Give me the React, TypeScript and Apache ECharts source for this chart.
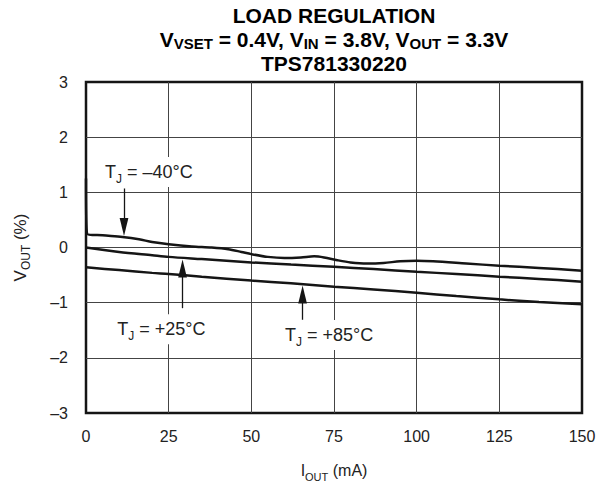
import React, { useEffect, useRef } from "react";
import * as echarts from "echarts";

const FONT = "'Liberation Sans', Arial, Helvetica, sans-serif";

// X axis: output current (mA)
const X_MIN = 0;
const X_MAX = 150;
const X_STEP = 25;
// Y axis: output voltage change (%)
const Y_MIN = -3;
const Y_MAX = 3;
const Y_STEP = 1;
const Y_TICK_LABELS = ["–3", "–2", "–1", "0", "1", "2", "3"];

// TJ = -40°C
const I_M40 = [0, 0.3, 5, 11, 16, 20, 25, 32, 38, 43, 47, 50, 55, 60, 65, 69, 72, 76, 80, 85, 90, 95, 100, 105, 115, 125, 137, 150];
const V_M40 = [1.25, 0.25, 0.22, 0.19, 0.15, 0.1, 0.06, 0.02, 0.0, -0.03, -0.08, -0.12, -0.17, -0.19, -0.18, -0.16, -0.18, -0.23, -0.27, -0.29, -0.28, -0.25, -0.24, -0.25, -0.29, -0.33, -0.37, -0.42];
// TJ = +25°C
const I_P25 = [0, 10, 20, 25, 35, 50, 62, 75, 87, 100, 112, 125, 137, 150];
const V_P25 = [0.0, -0.08, -0.14, -0.17, -0.21, -0.27, -0.31, -0.35, -0.39, -0.44, -0.48, -0.53, -0.57, -0.62];
// TJ = +85°C
const I_P85 = [0, 10, 20, 25, 35, 50, 62, 75, 87, 100, 112, 125, 137, 150];
const V_P85 = [-0.36, -0.41, -0.46, -0.48, -0.53, -0.6, -0.65, -0.71, -0.76, -0.82, -0.88, -0.94, -0.99, -1.03];

// Annotations (data coordinates)
const LABELS = ["–40°C", "+25°C", "+85°C"];
const LABEL_POS = [
  [19, 1.37],
  [22.8, -1.48],
  [73.5, -1.585],
];
const ARROWS = [
  [[11.5, 1.07], [11.5, 0.37]],
  [[29.2, -1.1], [29.2, -0.38]],
  [[65.5, -1.31], [65.5, -0.85]],
];

const ARROW_HEAD = "path://M-7,14L-7,14M0,0L3.4,14L-3.4,14ZM7,0L7,0";

const zip = (xs: number[], ys: number[]) => xs.map((x, i) => [x, ys[i]]);

const labelRich = {
  m: { fontFamily: FONT, fontSize: 18, color: "#222", lineHeight: 26 },
  s: { fontFamily: FONT, fontSize: 12, color: "#222", verticalAlign: "bottom" as const },
};

function makeSeries(xs: number[], ys: number[], idx: number) {
  return {
    type: "line",
    data: zip(xs, ys),
    symbol: "none",
    showSymbol: false,
    smooth: 0.3,
    lineStyle: { color: "#151515", width: 2.5 },
    z: 3,
    markLine: {
      silent: true,
      symbol: ["none", ARROW_HEAD],
      symbolSize: 18,
      lineStyle: { color: "#151515", width: 1.3, type: "solid" },
      itemStyle: { color: "#151515" },
      label: { show: false },
      data: [[{ coord: ARROWS[idx][0] }, { coord: ARROWS[idx][1] }]],
    },
    markPoint: {
      silent: true,
      symbol: "circle",
      symbolSize: 1,
      itemStyle: { color: "rgba(0,0,0,0)" },
      label: {
        show: true,
        position: "inside",
        backgroundColor: "#fff",
        padding: [2, 4],
        formatter: () => `{m|T}{s|J}{m| = ${LABELS[idx]}}`,
        rich: labelRich,
      },
      data: [{ coord: LABEL_POS[idx] }],
    },
  };
}

export default function App() {
  const ref = useRef<HTMLDivElement>(null);
  useEffect(() => {
    const chart = echarts.init(ref.current!, null, { renderer: "svg" });
    const titleRich = {
      b: { fontFamily: FONT, fontSize: 21, fontWeight: "bold" as const, color: "#1a1a1a", lineHeight: 24 },
      s: { fontFamily: FONT, fontSize: 15, fontWeight: "bold" as const, color: "#1a1a1a", verticalAlign: "bottom" as const },
    };
    chart.setOption({
      animation: false,
      backgroundColor: "#fff",
      graphic: [
        {
          type: "text",
          x: 334,
          y: 3,
          style: {
            text:
              "{b|LOAD REGULATION}\n" +
              "{b|V}{s|VSET}{b| = 0.4V, V}{s|IN}{b| = 3.8V, V}{s|OUT}{b| = 3.3V}\n" +
              "{b|TPS781330220}",
            align: "center",
            verticalAlign: "top",
            rich: titleRich,
          },
        },
      ],
      grid: {
        left: 86,
        right: 28,
        top: 82,
        bottom: 70,
        show: true,
        borderColor: "#151515",
        borderWidth: 2.5,
        backgroundColor: "transparent",
      },
      xAxis: {
        type: "value",
        min: X_MIN,
        max: X_MAX,
        interval: X_STEP,
        axisLine: { show: false },
        axisTick: { show: false },
        axisLabel: { fontFamily: FONT, fontSize: 16, color: "#222", margin: 15 },
        splitLine: { show: true, showMinLine: false, showMaxLine: false, lineStyle: { color: "#444", width: 1 } },
        name: "{m|I}{s|OUT}{m| (mA)}",
        nameLocation: "middle",
        nameGap: 45,
        nameTextStyle: {
          rich: {
            m: { fontFamily: FONT, fontSize: 16, color: "#222", lineHeight: 24 },
            s: { fontFamily: FONT, fontSize: 11, color: "#222", verticalAlign: "bottom" },
          },
        },
      },
      yAxis: {
        type: "value",
        min: Y_MIN,
        max: Y_MAX,
        interval: Y_STEP,
        axisLine: { show: false },
        axisTick: { show: false },
        axisLabel: {
          fontFamily: FONT,
          fontSize: 16,
          color: "#222",
          margin: 18,
          formatter: (v: number) => Y_TICK_LABELS[Math.round((v - Y_MIN) / Y_STEP)] ?? String(v),
        },
        splitLine: { show: true, showMinLine: false, showMaxLine: false, lineStyle: { color: "#444", width: 1 } },
        name: "{m|V}{s|OUT}{m| (%)}",
        nameLocation: "middle",
        nameGap: 54,
        nameTextStyle: {
          rich: {
            m: { fontFamily: FONT, fontSize: 17, color: "#222", lineHeight: 24 },
            s: { fontFamily: FONT, fontSize: 12, color: "#222", verticalAlign: "bottom" },
          },
        },
      },
      series: [makeSeries(I_M40, V_M40, 0), makeSeries(I_P25, V_P25, 1), makeSeries(I_P85, V_P85, 2)],
    });
    return () => chart.dispose();
  }, []);
  return (
    <div
      ref={ref}
      style={{ position: "fixed", left: 0, top: 0, width: 610, height: 487, background: "#fff" }}
    />
  );
}
